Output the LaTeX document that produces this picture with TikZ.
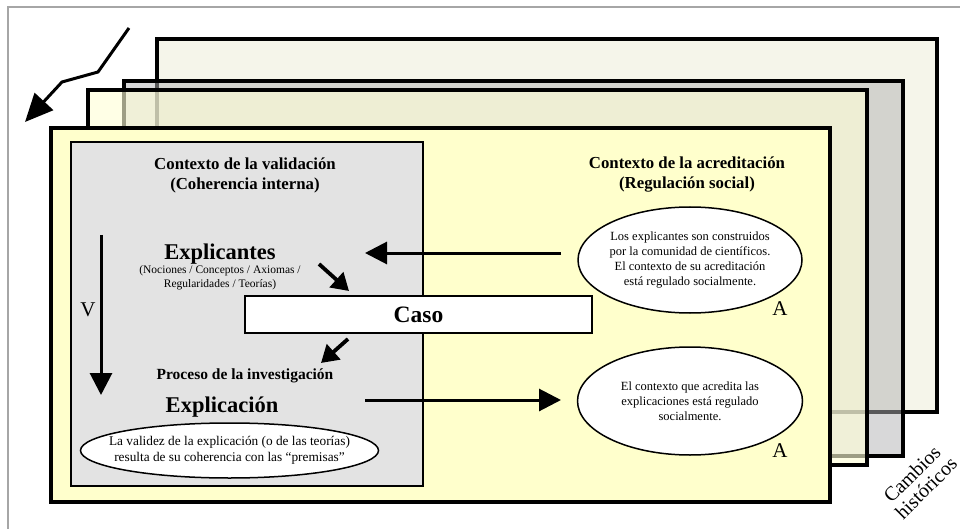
\documentclass[tikz,border=0pt]{standalone}
\usepackage{fontspec}
\setmainfont{Liberation Serif}
\usetikzlibrary{arrows.meta,shapes.geometric}
\definecolor{backfill}{HTML}{F5F5EA}
\definecolor{grayfill}{HTML}{B2B2B4}
\definecolor{beigefill}{HTML}{FFFFD8}
\definecolor{frontfill}{HTML}{FFFFCC}
\definecolor{panelfill}{HTML}{E3E3E3}
\tikzset{
  frame/.style={draw=black, line width=3.2pt},
  panelbox/.style={draw=black, line width=1.3pt, fill=panelfill},
  casobox/.style={draw=black, line width=1.4pt, fill=white, inner sep=0pt},
  ell/.style={ellipse, draw=black, line width=1.5pt, fill=white, inner sep=0pt},
  elltext/.style={align=center, inner sep=0pt},
  bigarrow/.style={line width=3pt, -{Triangle[length=22pt,width=22pt]}},
  smallarrow/.style={line width=3.8pt, -{Triangle[length=17pt,width=20pt]}},
  title/.style={font=\fontsize{16.8}{20}\selectfont\bfseries, align=center},
  big/.style={font=\fontsize{22.5}{24}\selectfont\bfseries},
  letter/.style={font=\fontsize{21}{22}\selectfont},
}
\begin{document}
\begin{tikzpicture}[x=1pt,y=-1pt]
\useasboundingbox (0,0) rectangle (960,529);
\fill[white] (0,0) rectangle (960,529);
% outer border
\draw[gray!70, line width=1.2pt] (8,529) -- (8,7) -- (960,7);
% stacked frames
\draw[frame, fill=backfill] (157,39) rectangle (937,412);
\draw[frame, fill=grayfill, fill opacity=0.5] (124,81) rectangle (903,456);
\draw[frame, fill=beigefill, fill opacity=0.62] (88,90) rectangle (867,465);
\draw[frame, fill=frontfill] (51,128) rectangle (830,502);
% validation panel
\draw[panelbox] (71,142) rectangle (423,486);
% caso
\node[casobox, minimum width=347pt, minimum height=37pt, font=\fontsize{23.5}{25}\selectfont\bfseries] (caso) at (418.5,314.5) {Caso};
% titles
\node[title] (ctxval) at (245,175) {Contexto de la validación\\(Coherencia interna)};
\node[title] (ctxacc) at (687,175) {Contexto de la acreditación\\(Regulación social)};
% left texts
\node[big] (explicantes) at (220,254) {Explicantes};
\node[font=\fontsize{11.5}{13.5}\selectfont, align=center] (nociones) at (220,278) {(Nociones / Conceptos / Axiomas /\\Regularidades / Teorías)};
\node[letter] (V) at (88,310) {V};
\node[font=\fontsize{15.5}{17}\selectfont\bfseries] (proceso) at (245,376) {Proceso de la investigación};
\node[big] (explicacion) at (222,407) {Explicación};
% ellipses
\node[ell, minimum width=298pt, minimum height=55pt] (val) at (229.5,450.5) {};
\node[elltext, font=\fontsize{13.3}{16}\selectfont] (valtext) at (val.center) {La validez de la explicación (o de las teorías)\\resulta de su coherencia con las “premisas”};
\node[ell, minimum width=224pt, minimum height=106pt] (acc1) at (690,260) {};
\node[elltext, font=\fontsize{12.5}{15}\selectfont] (acc1text) at (acc1.center) {Los explicantes son construidos\\por la comunidad de científicos.\\El contexto de su acreditación\\está regulado socialmente.};
\node[ell, minimum width=225pt, minimum height=108pt] (acc2) at (690,401) {};
\node[elltext, font=\fontsize{12.5}{15}\selectfont] (acc2text) at (acc2.center) {El contexto que acredita las\\explicaciones está regulado\\socialmente.};
\node[letter] (A1) at (780,309) {A};
\node[letter] (A2) at (780,451) {A};
% cambios historicos
\node[font=\fontsize{20}{20}\selectfont, align=center, rotate=45] (cambios) at (919,481) {Cambios\\históricos};
% arrow coordinates
\coordinate (z0) at (129,28);
\coordinate (z1) at (98,72);
\coordinate (z2) at (62,82);
\coordinate (z3) at (25,122);
\coordinate (v0) at (101,235);
\coordinate (v1) at (101,395);
\coordinate (e0) at (319,264);
\coordinate (e1) at (349,291);
\coordinate (p0) at (348,339);
\coordinate (p1) at (321,363);
\coordinate (a1s) at (561,253);
\coordinate (a1e) at (365,253);
\coordinate (a2s) at (365,400);
\coordinate (a2e) at (561,400);
% arrows
\draw[line width=3pt, -{Triangle[length=28pt,width=25pt]}, line join=miter] (z0) -- (z1) -- (z2) -- (z3);
\draw[bigarrow] (v0) -- (v1);
\draw[smallarrow] (e0) -- (e1);
\draw[smallarrow] (p0) -- (p1);
\draw[bigarrow] (a1s) -- (a1e);
\draw[bigarrow] (a2s) -- (a2e);
\end{tikzpicture}
\end{document}
